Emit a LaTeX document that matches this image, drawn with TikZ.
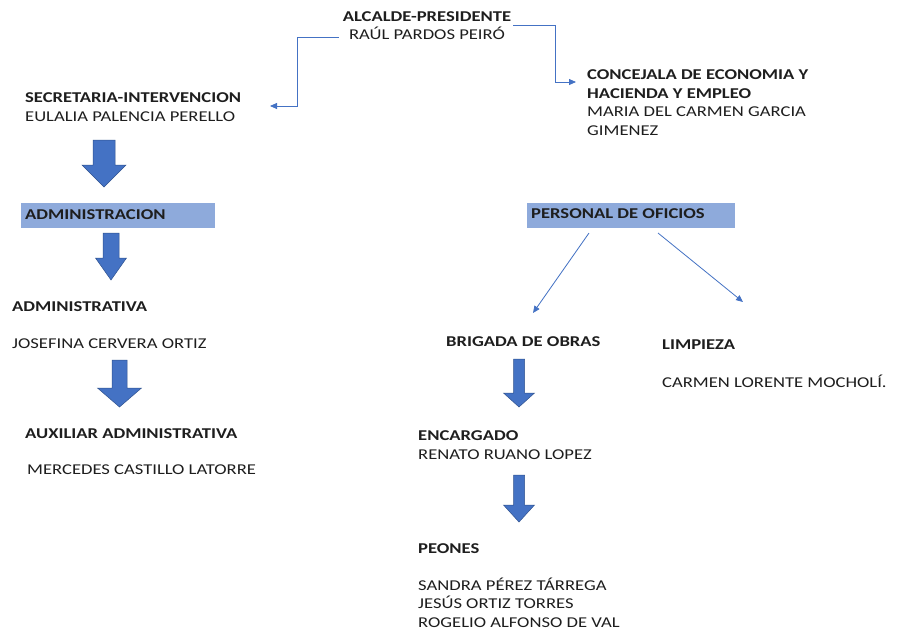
\documentclass[tikz,border=0pt]{standalone}
\usepackage{fontspec}
\setmainfont{Carlito}[FakeStretch=1.24]
\usetikzlibrary{arrows.meta}
\definecolor{bluearrow}{HTML}{4472C4}
\definecolor{bluedark}{HTML}{2F528F}
\definecolor{boxfill}{HTML}{8EAADB}
\definecolor{txt}{HTML}{1E1E1E}
\newcommand\blockarrow[6]{%
  \filldraw[barrow] ({#1-#3},#2) -- ({#1+#3},#2) -- ({#1+#3},#5) -- ({#1+#4},#5) -- (#1,#6) -- ({#1-#4},#5) -- ({#1-#3},#5) -- cycle;}
\tikzset{
  lbl/.style={anchor=base west, inner sep=2pt, align=left, text=txt, font=\fontsize{15pt}{18.5pt}\selectfont},
  ttl/.style={lbl, font=\fontsize{15pt}{18.5pt}\selectfont\bfseries},
  conn/.style={draw=bluearrow, line width=0.8pt, -{Triangle[length=7pt,width=6pt]}},
  barrow/.style={fill=bluearrow, draw=bluedark, line width=0.5pt}
}
\begin{document}
\begin{tikzpicture}[x=1pt,y=-1pt]
\useasboundingbox[fill=white] (0,0) rectangle (897,633);
% top
\node[lbl, anchor=center, align=center] (top) at (427,25.5) {\textbf{ALCALDE-PRESIDENTE}\\RAÚL PARDOS PEIRÓ};
% secretaria
\node[lbl] (secr) at (23,121) {\textbf{SECRETARIA-INTERVENCION}\\EULALIA PALENCIA PERELLO};
% concejala
\node[ttl] (conc) at (585,98) {CONCEJALA DE ECONOMIA Y\\HACIENDA Y EMPLEO};
\node[lbl] (concn) at (585,135) {MARIA DEL CARMEN GARCIA\\GIMENEZ};
% connectors from top
\coordinate (lstart) at ([xshift=-2pt,yshift=-11.5pt]top.west);
\coordinate (secin) at (270,106);
\draw[conn] (lstart) -- (297,37) -- (297,106) -- (secin);
\coordinate (conin) at (576,82);
\draw[conn] (top.east) -- (555,25.5) -- (555,82) -- (conin);
% administracion
\fill[boxfill] (21,203) rectangle (215,228);
\node[ttl, anchor=west] (admin) at (23,214.5) {ADMINISTRACION};
\blockarrow{104}{140}{11}{22}{165}{187}
\blockarrow{111}{233}{8}{15.5}{258}{280}
\node[ttl] (adva) at (10,311) {ADMINISTRATIVA};
\node[lbl] (josef) at (10,348) {JOSEFINA CERVERA ORTIZ};
\blockarrow{119.5}{360}{7.5}{22}{388}{407}
\node[ttl] (aux) at (23,438) {AUXILIAR ADMINISTRATIVA};
\node[lbl] (merc) at (25,474) {MERCEDES CASTILLO LATORRE};
% personal de oficios
\fill[boxfill] (527,203) rectangle (735,228);
\node[ttl, anchor=west] (pers) at (529,213.5) {PERSONAL DE OFICIOS};
\node[ttl] (brig) at (444,346) {BRIGADA DE OBRAS};
\node[ttl] (limp) at (660,349) {LIMPIEZA};
\node[lbl] (carm) at (660,387) {CARMEN LORENTE MOCHOLÍ.};
\coordinate (p1) at (589,233);
\coordinate (p2) at (658,233);
\coordinate (b1) at (533,313);
\coordinate (l1) at (743,302);
\draw[conn] (p1) -- (b1);
\draw[conn] (p2) -- (l1);
\blockarrow{519}{359}{5.5}{15.5}{393}{407}
\node[lbl] (enc) at (416,459) {\textbf{ENCARGADO}\\RENATO RUANO LOPEZ};
\blockarrow{519}{475}{5.5}{15.5}{505}{522}
\node[ttl] (peon) at (416,553) {PEONES};
\node[lbl] (peonn) at (416,627) {SANDRA PÉREZ TÁRREGA\\JESÚS ORTIZ TORRES\\ROGELIO ALFONSO DE VAL};
\end{tikzpicture}
\end{document}
